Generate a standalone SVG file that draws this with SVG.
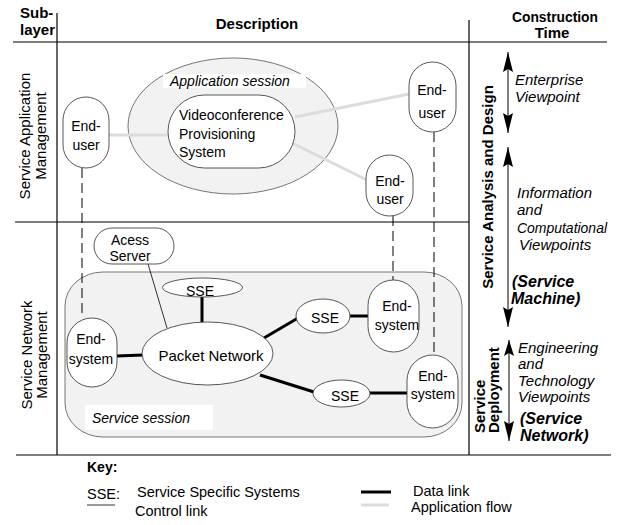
<svg xmlns="http://www.w3.org/2000/svg" width="618" height="525" viewBox="0 0 618 525">
<defs>
<style>
text { font-family: "Liberation Sans", Arial, Helvetica, sans-serif; fill: #000; }
.h { font-size: 15px; font-weight: bold; }
.n { font-size: 14px; }
.lab { font-size: 15px; }
.key { font-size: 14.5px; }
.it { font-size: 15px; font-style: italic; }
.its { font-size: 14px; font-style: italic; }
.bi { font-size: 16px; font-style: italic; font-weight: bold; }
.mid { text-anchor: middle; }
.grid { stroke: #000; stroke-width: 1.2; fill: none; }
.node { fill: #fff; stroke: #444; stroke-width: 0.9; }
.sess { fill: #f2f2f2; stroke: #666; stroke-width: 0.9; }
.data { stroke: #000; stroke-width: 3; fill: none; }
.ctrl { stroke: #000; stroke-width: 0.8; fill: none; }
.flow { stroke: #dcdcdc; stroke-width: 3; fill: none; }
.dash { stroke: #000; stroke-width: 1; stroke-dasharray: 10 5; fill: none; }
.arr { stroke: #000; stroke-width: 1; fill: none; }
</style>
<marker id="ah" markerUnits="userSpaceOnUse" markerWidth="20" markerHeight="10" refX="20" refY="5" orient="auto-start-reverse" viewBox="0 0 20 10">
<path d="M0,0 L20,5 L0,10 L3,5 z" fill="#000"/>
</marker>
<marker id="ahs" markerUnits="userSpaceOnUse" markerWidth="16" markerHeight="10" refX="16" refY="5" orient="auto-start-reverse" viewBox="0 0 16 10">
<path d="M0,0 L16,5 L0,10 L3,5 z" fill="#000"/>
</marker>
</defs>

<g id="grid">
<line class="grid" x1="13" y1="42" x2="607" y2="42"/>
<line class="grid" x1="57" y1="13" x2="57" y2="455"/>
<line class="grid" x1="469" y1="20" x2="469" y2="455"/>
<line class="grid" x1="15" y1="222" x2="469" y2="222"/>
<line class="grid" x1="16" y1="455" x2="611" y2="455"/>
</g>

<g id="headers">
<text class="h" x="20" y="18">Sub-</text>
<text class="h" x="20" y="35">layer</text>
<text class="h mid" x="257" y="29">Description</text>
<text class="h mid" x="555" y="22" textLength="86" lengthAdjust="spacingAndGlyphs">Construction</text>
<text class="h mid" x="552" y="38">Time</text>
</g>

<g id="sublayers">
<text class="lab mid" transform="translate(30,136) rotate(-90)">Service Application</text>
<text class="lab mid" transform="translate(46,136) rotate(-90)">Management</text>
<text class="lab mid" transform="translate(32,355) rotate(-90)">Service Network</text>
<text class="lab mid" transform="translate(47,355) rotate(-90)">Management</text>
</g>

<g id="application-session">
<ellipse class="sess" cx="233" cy="126" rx="105" ry="68"/>
<rect x="163" y="74" width="143" height="14" fill="#fff"/>
<text class="its" x="170" y="86">Application session</text>
</g>

<g id="service-session">
<rect class="sess" x="65" y="272" width="397" height="165" rx="38" ry="34"/>
<rect x="85" y="405" width="128" height="25" fill="#fff"/>
<text class="its" x="92" y="423">Service session</text>
</g>

<g id="connectors">
<line class="flow" x1="109" y1="135" x2="168" y2="135"/>
<line class="flow" x1="295" y1="117" x2="409" y2="94"/>
<line class="flow" x1="292" y1="143" x2="367" y2="180"/>
<line class="dash" x1="82" y1="168" x2="82" y2="318"/>
<line class="dash" x1="434" y1="132" x2="434" y2="355"/>
<line class="dash" x1="393" y1="216" x2="393" y2="280"/>
<line class="ctrl" x1="148" y1="264" x2="167" y2="328"/>
<line class="data" x1="202" y1="297" x2="202" y2="322"/>
<line class="data" x1="117" y1="356" x2="143" y2="355"/>
<line class="data" x1="264" y1="338" x2="298" y2="318"/>
<line class="data" x1="349" y1="316" x2="369" y2="316"/>
<line class="data" x1="260" y1="375" x2="314" y2="392"/>
<line class="data" x1="369" y1="393" x2="408" y2="393"/>
</g>

<g id="end-user-left">
<rect class="node" x="63" y="97" width="46" height="71" rx="23"/>
<text class="n mid" x="86" y="131">End-</text>
<text class="n mid" x="86" y="150">user</text>
</g>

<g id="videoconference">
<rect class="node" x="168" y="95" width="127" height="73" rx="36.5"/>
<text class="n" x="179" y="120">Videoconference</text>
<text class="n" x="179" y="138.5">Provisioning</text>
<text class="n" x="179" y="157">System</text>
</g>

<g id="end-user-top-right">
<rect class="node" x="409" y="62" width="47" height="70" rx="23.5"/>
<text class="n mid" x="432" y="95">End-</text>
<text class="n mid" x="432" y="118">user</text>
</g>

<g id="end-user-middle">
<rect class="node" x="366" y="155" width="47" height="61" rx="23.5"/>
<text class="n mid" x="390" y="186">End-</text>
<text class="n mid" x="390" y="204">user</text>
</g>

<g id="access-server">
<rect class="node" x="94" y="228" width="80" height="36" rx="18"/>
<text class="n mid" x="130" y="245">Acess</text>
<text class="n mid" x="130" y="261">Server</text>
</g>

<g id="sse-top">
<ellipse class="node" cx="202.5" cy="287.5" rx="40" ry="9.5"/>
<text class="n mid" x="200" y="296">SSE</text>
</g>

<g id="packet-network">
<ellipse class="node" cx="207.5" cy="353.5" rx="65.5" ry="31.5"/>
<text class="lab mid" x="211" y="361">Packet Network</text>
</g>

<g id="end-system-left">
<rect class="node" x="67" y="318" width="50" height="69" rx="25"/>
<text class="n mid" x="91" y="344">End-</text>
<text class="n mid" x="91" y="364">system</text>
</g>

<g id="sse-middle">
<ellipse class="node" cx="323" cy="316" rx="27" ry="17"/>
<text class="n mid" x="325" y="323">SSE</text>
</g>

<g id="end-system-middle">
<rect class="node" x="368" y="280" width="51" height="72" rx="25.5"/>
<text class="n mid" x="397" y="311">End-</text>
<text class="n mid" x="397" y="330">system</text>
</g>

<g id="sse-bottom">
<ellipse class="node" cx="341.5" cy="393.5" rx="28.5" ry="13.5"/>
<text class="n mid" x="345" y="401">SSE</text>
</g>

<g id="end-system-right">
<rect class="node" x="407" y="355" width="51" height="73" rx="25.5"/>
<text class="n mid" x="433" y="381">End-</text>
<text class="n mid" x="433" y="399">system</text>
</g>

<g id="construction-time">
<text class="h mid" transform="translate(493,187) rotate(-90)">Service Analysis and Design</text>
<text class="h" transform="translate(485,433) rotate(-90)">Service</text>
<text class="h" transform="translate(499,433) rotate(-90)">Deployment</text>
<line class="arr" x1="508" y1="52" x2="508" y2="133" marker-start="url(#ah)" marker-end="url(#ah)"/>
<line class="arr" x1="508" y1="147" x2="508" y2="327" marker-start="url(#ah)" marker-end="url(#ah)"/>
<line class="arr" x1="509" y1="340" x2="509" y2="441" marker-start="url(#ahs)" marker-end="url(#ah)"/>
<text class="it" x="515" y="85">Enterprise</text>
<text class="it" x="515" y="102">Viewpoint</text>
<text class="it" x="517" y="198">Information</text>
<text class="it" x="517" y="215">and</text>
<text class="it" x="517" y="233" textLength="90" lengthAdjust="spacingAndGlyphs">Computational</text>
<text class="it" x="519" y="250">Viewpoints</text>
<text class="bi" x="512" y="287">(Service</text>
<text class="bi" x="511" y="304">Machine)</text>
<text class="it" x="518" y="353">Engineering</text>
<text class="it" x="518" y="369">and</text>
<text class="it" x="518" y="386">Technology</text>
<text class="it" x="518" y="402">Viewpoints</text>
<text class="bi" x="520" y="424">(Service</text>
<text class="bi" x="520" y="441">Network)</text>
</g>

<g id="key">
<text class="h" x="87" y="472" style="font-size:14px">Key:</text>
<text class="key" x="87" y="499">SSE:</text>
<text class="key" x="137" y="497">Service Specific Systems</text>
<line class="ctrl" x1="87" y1="505" x2="115" y2="505"/>
<text class="key" x="135" y="516">Control link</text>
<line class="data" x1="361" y1="492" x2="391" y2="492"/>
<text class="key" x="413" y="496">Data link</text>
<line class="flow" x1="361" y1="505" x2="389" y2="505"/>
<text class="key" x="411" y="512">Application flow</text>
</g>
</svg>
